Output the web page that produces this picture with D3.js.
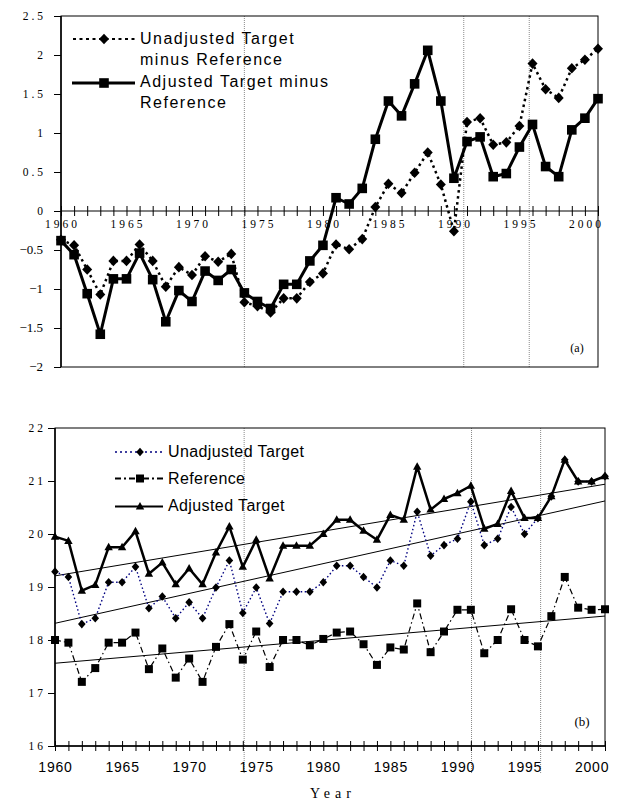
<!DOCTYPE html>
<html>
<head>
<meta charset="utf-8">
<script src="https://cdn.jsdelivr.net/npm/d3@7"></script>
<style>
  body { margin: 0; background: #fff; }
  svg { display: block; }
</style>
</head>
<body>
<svg id="chart" width="618" height="800"></svg>
<script>
// ---- data ----
const years = d3.range(1960, 2002);
const xLabelYears = [1960, 1965, 1970, 1975, 1980, 1985, 1990, 1995, 2000];

// panel (a): differences against the reference series
const unadjMinusRef = [-0.37, -0.44, -0.75, -1.07, -0.64, -0.64, -0.43, -0.64, -0.97, -0.72,
  -0.82, -0.58, -0.65, -0.55, -1.17, -1.22, -1.30, -1.12, -1.12, -0.91,
  -0.80, -0.43, -0.49, -0.36, 0.05, 0.35, 0.23, 0.49, 0.75, 0.34,
  -0.26, 1.14, 1.19, 0.85, 0.88, 1.09, 1.89, 1.56, 1.45, 1.83, 1.94, 2.08];
const adjMinusRef = [-0.38, -0.56, -1.06, -1.58, -0.87, -0.87, -0.54, -0.88, -1.42, -1.02,
  -1.16, -0.77, -0.89, -0.75, -1.05, -1.16, -1.25, -0.94, -0.94, -0.64,
  -0.44, 0.17, 0.09, 0.29, 0.92, 1.41, 1.22, 1.63, 2.06, 1.41,
  0.42, 0.89, 0.95, 0.44, 0.48, 0.82, 1.11, 0.57, 0.44, 1.04, 1.19, 1.44];
const yTicksA = [2.5, 2, 1.5, 1, 0.5, 0, -0.5, -1, -1.5, -2];
const breaksA = [1974, 1990.75, 1995.75];

// panel (b): the series themselves
const unadjTarget = [19.29, 19.19, 18.30, 18.41, 19.09, 19.09, 19.38, 18.60, 18.82, 18.41,
  18.71, 18.41, 18.99, 19.50, 18.51, 18.99, 18.31, 18.91, 18.91, 18.91,
  19.09, 19.40, 19.40, 19.19, 18.99, 19.50, 19.40, 20.42, 19.59, 19.79,
  19.91, 20.61, 19.79, 19.91, 20.51, 20.00, 20.30, 20.71, 21.40, 20.99, 20.99, 21.09];
const reference = [18.00, 17.95, 17.21, 17.47, 17.95, 17.95, 18.14, 17.45, 17.84, 17.29,
  17.65, 17.21, 17.87, 18.30, 17.63, 18.16, 17.49, 18.00, 18.00, 17.90,
  18.02, 18.14, 18.16, 17.92, 17.53, 17.86, 17.82, 18.69, 17.77, 18.16,
  18.57, 18.57, 17.75, 18.00, 18.58, 18.00, 17.88, 18.45, 19.19, 18.61, 18.57, 18.58];
const adjTarget = [19.95, 19.87, 18.93, 19.04, 19.75, 19.75, 20.05, 19.25, 19.46, 19.05,
  19.35, 19.05, 19.65, 20.14, 19.38, 19.89, 19.16, 19.78, 19.78, 19.78,
  20.00, 20.27, 20.27, 20.06, 19.89, 20.36, 20.27, 21.27, 20.46, 20.66,
  20.77, 20.91, 20.10, 20.19, 20.81, 20.30, 20.30, 20.71, 21.40, 20.99, 20.99, 21.09];
const yTicksB = [16, 17, 18, 19, 20, 21, 22];
const breaksB = [1974.1, 1991.05, 1996.2];

// ---- helpers ----
const svg = d3.select("#chart");
const SANS = "'Liberation Sans', Arial, sans-serif";
const SERIF = "'Liberation Serif', 'Times New Roman', serif";

function diamondPath(hw, hh) {
  return `M0,${-hh}L${hw},0L0,${hh}L${-hw},0Z`;
}
function squarePath(h) {
  return `M${-h},${-h}H${h}V${h}H${-h}Z`;
}
function trianglePath(hw, h) {
  return `M0,${-h * 0.6}L${hw},${h * 0.4}L${-hw},${h * 0.4}Z`;
}

function drawSeries(g, x, y, values, lineStyle, markerPath) {
  const pts = years.map((yr, i) => [yr, values[i]]);
  const line = d3.line().x(d => x(d[0])).y(d => y(d[1]));
  g.append("path").datum(pts)
    .attr("d", line)
    .attr("fill", "none")
    .attr("stroke", lineStyle.color)
    .attr("stroke-width", lineStyle.width)
    .attr("stroke-dasharray", lineStyle.dash || null)
    .attr("stroke-linejoin", "round");
  g.selectAll(null).data(pts).enter().append("path")
    .attr("d", markerPath)
    .attr("transform", d => `translate(${x(d[0])},${y(d[1])})`)
    .attr("fill", "#000");
}

function linearFit(xs, ys) {
  const mx = d3.mean(xs), my = d3.mean(ys);
  let sxy = 0, sxx = 0;
  xs.forEach((v, i) => { sxy += (v - mx) * (ys[i] - my); sxx += (v - mx) * (v - mx); });
  const b = sxy / sxx;
  return t => my + b * (t - mx);
}

// ================= panel (a) =================
{
  const L = 61, R = 598, T = 16, B = 367;
  const x = d3.scaleLinear().domain([1960, 2001]).range([L, R]);
  const y = d3.scaleLinear().domain([-2, 2.5]).range([B, T]);
  const g = svg.append("g");

  // break lines
  g.selectAll(null).data(breaksA).enter().append("line")
    .attr("x1", d => x(d)).attr("x2", d => x(d))
    .attr("y1", T).attr("y2", B)
    .attr("stroke", "#8a8a8a").attr("stroke-width", 1)
    .attr("stroke-dasharray", "1,1");

  // frame
  g.append("rect").attr("x", L).attr("y", T).attr("width", R - L).attr("height", B - T)
    .attr("fill", "none").attr("stroke", "#000").attr("stroke-width", 1);
  g.append("line").attr("x1", L).attr("x2", L).attr("y1", T).attr("y2", B)
    .attr("stroke", "#000").attr("stroke-width", 1.5);

  // y axis
  const yAxis = d3.axisLeft(y).tickValues(yTicksA).tickSize(7).tickFormat("");
  const ya = g.append("g").attr("transform", `translate(${L},0)`).call(yAxis);
  ya.select(".domain").remove();
  ya.selectAll("line").attr("stroke", "#000");
  g.selectAll(null).data(yTicksA).enter().append("text")
    .attr("x", d => d < 0 ? 43 : 46)
    .attr("y", d => y(d) + 4)
    .attr("text-anchor", "end")
    .attr("font-family", SERIF)
    .attr("font-size", d => d < 0 ? 13 : 11.5)
    .attr("letter-spacing", d => d < 0 ? 0 : 3)
    .text(d => d < 0 ? "\u2212" + Math.abs(d) : String(d));

  // zero line with year ticks
  const xAxis = d3.axisBottom(x).tickValues(years).tickSize(5).tickFormat("");
  const xa = g.append("g").attr("transform", `translate(0,${y(0)})`).call(xAxis);
  xa.select(".domain").attr("stroke", "#000").attr("d", `M${L},0H${R}`);
  xa.selectAll(".tick line").attr("stroke", "#000").attr("y1", -5).attr("y2", 5);
  g.selectAll(null).data(xLabelYears).enter().append("text")
    .attr("x", d => x(d) + 1.5)
    .attr("y", y(0) + 17)
    .attr("text-anchor", "middle")
    .attr("font-family", SERIF)
    .attr("font-size", 11.5)
    .attr("letter-spacing", 3)
    .text(d => d);

  // series
  drawSeries(g, x, y, unadjMinusRef, { color: "#000", width: 2.5, dash: "2.5,3.5" }, diamondPath(5, 5.3));
  drawSeries(g, x, y, adjMinusRef, { color: "#000", width: 3 }, squarePath(4.8));

  // legend
  const lg = g.append("g").attr("font-family", SANS).attr("font-size", 16).attr("letter-spacing", 1.5);
  lg.append("line").attr("x1", 73).attr("x2", 135).attr("y1", 39).attr("y2", 39)
    .attr("stroke", "#000").attr("stroke-width", 2).attr("stroke-dasharray", "3,3.5");
  lg.append("path").attr("d", diamondPath(5, 5.3)).attr("transform", "translate(104,39)");
  lg.append("line").attr("x1", 72).attr("x2", 135).attr("y1", 83).attr("y2", 83)
    .attr("stroke", "#000").attr("stroke-width", 3);
  lg.append("path").attr("d", squarePath(4.8)).attr("transform", "translate(104,83)");
  [["Unadjusted Target", 43.5], ["minus Reference", 64.5],
   ["Adjusted Target minus", 86.5], ["Reference", 107.5]].forEach(([t, yy]) => {
    lg.append("text").attr("x", 140).attr("y", yy).text(t);
  });

  g.append("text").attr("x", 577).attr("y", 352).attr("text-anchor", "middle")
    .attr("font-family", SERIF).attr("font-size", 12).text("(a)");
}

// ================= panel (b) =================
{
  const L = 55, R = 605, T = 428, B = 746;
  const x = d3.scaleLinear().domain([1960, 2001]).range([L, R]);
  const y = d3.scaleLinear().domain([16, 22]).range([B, T]);
  const g = svg.append("g");

  g.selectAll(null).data(breaksB).enter().append("line")
    .attr("x1", d => x(d)).attr("x2", d => x(d))
    .attr("y1", T).attr("y2", 774)
    .attr("stroke", "#8a8a8a").attr("stroke-width", 1)
    .attr("stroke-dasharray", "1,1");

  g.append("rect").attr("x", L).attr("y", T).attr("width", R - L).attr("height", B - T)
    .attr("fill", "none").attr("stroke", "#000").attr("stroke-width", 1);
  g.append("line").attr("x1", L).attr("x2", L).attr("y1", T).attr("y2", B)
    .attr("stroke", "#000").attr("stroke-width", 1.5);
  g.append("line").attr("x1", L).attr("x2", R).attr("y1", B).attr("y2", B)
    .attr("stroke", "#000").attr("stroke-width", 1.5);

  const yAxis = d3.axisLeft(y).tickValues(yTicksB).tickSize(7).tickFormat("");
  const ya = g.append("g").attr("transform", `translate(${L},0)`).call(yAxis);
  ya.select(".domain").remove();
  ya.selectAll("line").attr("stroke", "#000");
  g.selectAll(null).data(yTicksB).enter().append("text")
    .attr("x", 46)
    .attr("y", d => y(d) + 4)
    .attr("text-anchor", "end")
    .attr("font-family", SERIF)
    .attr("font-size", 11.5)
    .attr("letter-spacing", 3)
    .text(d => d);

  const xAxis = d3.axisBottom(x).tickValues(years).tickSize(5).tickFormat("");
  const xa = g.append("g").attr("transform", `translate(0,${B})`).call(xAxis);
  xa.select(".domain").remove();
  xa.selectAll(".tick line").attr("stroke", "#000").attr("y1", -5).attr("y2", 5);
  g.selectAll(null).data(xLabelYears).enter().append("text")
    .attr("x", d => x(d) + 0.5)
    .attr("y", 772)
    .attr("text-anchor", "middle")
    .attr("font-family", SANS)
    .attr("font-size", 14)
    .attr("letter-spacing", 0.8)
    .text(d => d);

  // linear trend lines
  [adjTarget, unadjTarget, reference].forEach(vals => {
    const f = linearFit(years, vals);
    g.append("line")
      .attr("x1", x(1960)).attr("y1", y(f(1960)))
      .attr("x2", x(2001)).attr("y2", y(f(2001)))
      .attr("stroke", "#000").attr("stroke-width", 1);
  });

  drawSeries(g, x, y, reference, { color: "#000", width: 1.2, dash: "6,3,1.5,3" }, squarePath(4));
  drawSeries(g, x, y, unadjTarget, { color: "#000080", width: 1.4, dash: "1.5,2.5" }, diamondPath(3.8, 4.3));
  drawSeries(g, x, y, adjTarget, { color: "#000", width: 2.5 }, trianglePath(4.2, 7.5));

  // legend
  const lg = g.append("g").attr("font-family", SANS).attr("font-size", 16).attr("letter-spacing", 0.4);
  lg.append("line").attr("x1", 115).attr("x2", 163).attr("y1", 452).attr("y2", 452)
    .attr("stroke", "#000080").attr("stroke-width", 1.6).attr("stroke-dasharray", "2,3");
  lg.append("path").attr("d", diamondPath(3.8, 4.3)).attr("transform", "translate(140,452)");
  lg.append("line").attr("x1", 115).attr("x2", 163).attr("y1", 478.5).attr("y2", 478.5)
    .attr("stroke", "#000").attr("stroke-width", 1.8).attr("stroke-dasharray", "6,3,2,3");
  lg.append("path").attr("d", squarePath(4)).attr("transform", "translate(140,478.5)");
  lg.append("line").attr("x1", 115).attr("x2", 163).attr("y1", 506.5).attr("y2", 506.5)
    .attr("stroke", "#000").attr("stroke-width", 2);
  lg.append("path").attr("d", trianglePath(4.2, 7.5)).attr("transform", "translate(140,506.5)");
  [["Unadjusted Target", 457], ["Reference", 484], ["Adjusted Target", 511]].forEach(([t, yy]) => {
    lg.append("text").attr("x", 168).attr("y", yy).text(t);
  });

  g.append("text").attr("x", 582).attr("y", 726).attr("text-anchor", "middle")
    .attr("font-family", SERIF).attr("font-size", 13).text("(b)");

  g.append("text").attr("x", 333).attr("y", 798).attr("text-anchor", "middle")
    .attr("font-family", SERIF).attr("font-size", 14).attr("letter-spacing", 5)
    .text("Year");
}
</script>
</body>
</html>
